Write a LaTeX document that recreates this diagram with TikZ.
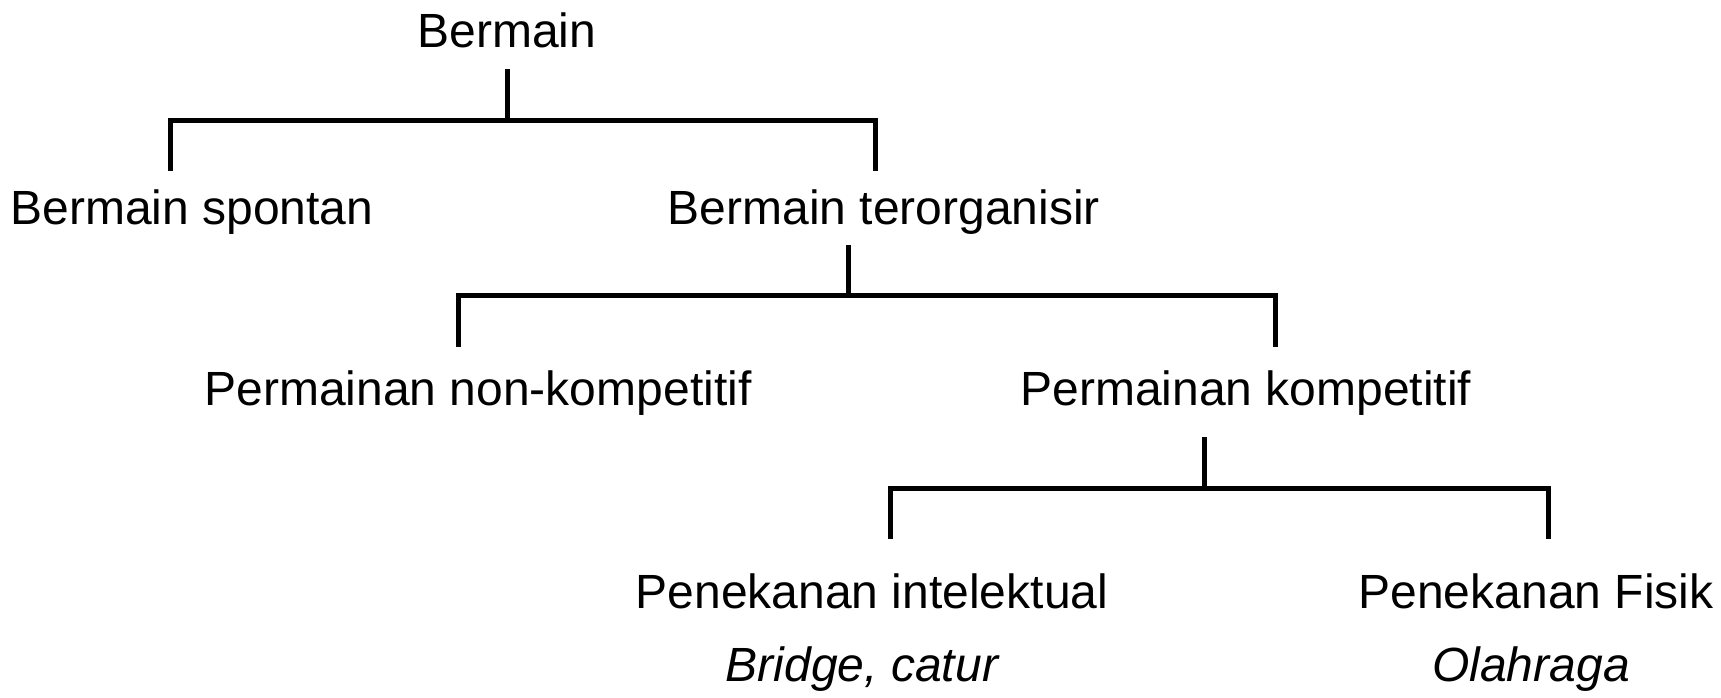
\documentclass[tikz,border=0pt]{standalone}
\usepackage{fontspec}
\setmainfont{Liberation Sans}
\usepackage{tikz}

\tikzset{
  bracket/.style={line width=2.5pt, line cap=rect},
  label/.style={anchor=base, inner sep=0.75pt, font=\fontsize{24}{29}\selectfont},
}

\begin{document}
\begin{tikzpicture}[x=0.5pt,y=0.5pt,yscale=-1,xscale=1]

            \useasboundingbox (0,0) rectangle (1721,697);

            % Text Node
            \node (bermain) at (507,47) [label] {Bermain};
            % Text Node
            \node (spontan) at (192,224) [label] {Bermain spontan};
            % Text Node
            \node (terorganisir) at (884,224) [label] {Bermain terorganisir};
            % Text Node
            \node (nonkomp) at (478,405) [label] {Permainan non-kompetitif};
            % Text Node
            \node (komp) at (1246,405) [label] {Permainan kompetitif};
            % Text Node
            \node (intelektual) at (872,608) [label] {Penekanan intelektual};
            % Text Node
            \node (fisik) at (1536,608) [label] {Penekanan Fisik};
            % Text Node
            \node (bridge) at (862,681) [label] {\itshape Bridge, catur};
            % Text Node
            \node (olahraga) at (1531,681) [label] {\itshape Olahraga};

            % bracket points
            \coordinate (t1) at (507,71);   \coordinate (m1) at (507,120);
            \coordinate (l1) at (170,120);  \coordinate (r1) at (875,120);
            \coordinate (t2) at (848,247);  \coordinate (m2) at (848,295);
            \coordinate (l2) at (458,295);  \coordinate (r2) at (1275,295);
            \coordinate (t3) at (1204,439); \coordinate (m3) at (1204,488);
            \coordinate (l3) at (890,488);  \coordinate (r3) at (1548,488);

            \draw [bracket]  (t1) -- (m1) ;
            \draw [bracket]  (l1 |- 0,168) -- (l1) -- (r1) -- (r1 |- 0,168) ;
            \draw [bracket]  (t2) -- (m2) ;
            \draw [bracket]  (l2 |- 0,344) -- (l2) -- (r2) -- (r2 |- 0,344) ;
            \draw [bracket]  (t3) -- (m3) ;
            \draw [bracket]  (l3 |- 0,536) -- (l3) -- (r3) -- (r3 |- 0,536) ;

\end{tikzpicture}
\end{document}
